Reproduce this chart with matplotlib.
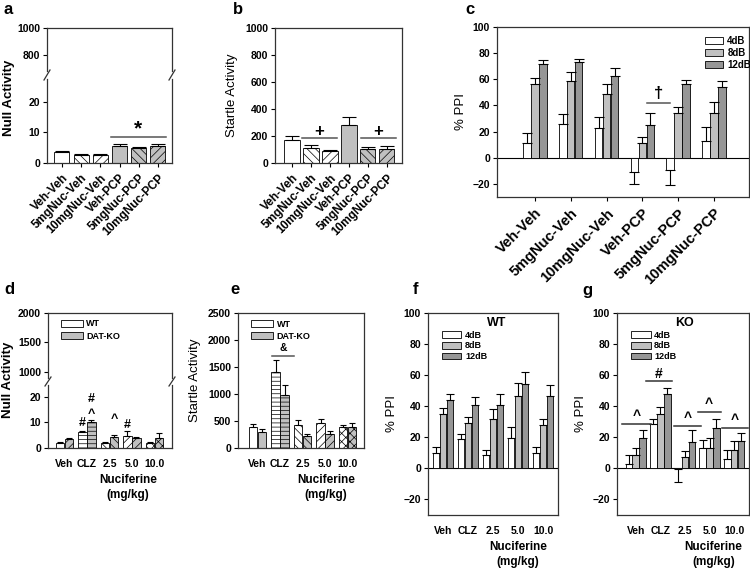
import matplotlib
matplotlib.use('Agg')
import matplotlib.pyplot as plt
from matplotlib.patches import Patch
from matplotlib.lines import Line2D
import numpy as np

plt.rcParams['font.family'] = ['Liberation Sans', 'DejaVu Sans']
plt.rcParams['font.weight'] = 'bold'
plt.rcParams['hatch.linewidth'] = 0.5

W, H = 750, 572

# ---- panels a-c: PCP model ----
groups_abc = ['Veh-Veh', '5mgNuc-Veh', '10mgNuc-Veh', 'Veh-PCP', '5mgNuc-PCP', '10mgNuc-PCP']
null_act = [3.5, 2.6, 2.6, 5.5, 4.8, 5.5]
null_err = [0.3, 0.5, 0.5, 0.6, 0.4, 0.7]
startle_act = [168, 112, 88, 285, 105, 105]
startle_err = [32, 22, 12, 57, 13, 20]
c_4db = [11.5, 25.9, 23.0, -10.8, -9.0, 12.8]
c_4db_err = [7.7, 7.4, 8.5, 8.9, 12.0, 11.0]
c_8db = [56.4, 59.0, 48.7, 11.0, 34.1, 34.1]
c_8db_err = [4.6, 6.4, 8.0, 5.0, 4.4, 8.2]
c_12db = [71.8, 73.0, 62.8, 25.1, 56.4, 53.8]
c_12db_err = [2.6, 2.6, 5.9, 9.0, 3.3, 5.2]

# ---- panels d-g: DAT-KO ----
doses = ['Veh', 'CLZ', '2.5', '5.0', '10.0']
null_wt = [1.9, 6.1, 1.9, 4.8, 1.9]
null_wt_err = [0.3, 0.6, 0.3, 1.7, 0.3]
null_ko = [3.5, 10.0, 4.3, 3.9, 3.9]
null_ko_err = [0.3, 1.0, 0.9, 0.6, 1.9]
startle_wt = [389, 1407, 432, 463, 389]
startle_wt_err = [61, 216, 80, 80, 31]
startle_ko = [296, 988, 216, 265, 389]
startle_ko_err = [62, 185, 49, 44, 74]
wt_4db = [10.2, 19.0, 8.3, 19.4, 10.2]
wt_4db_err = [3.4, 3.0, 3.7, 7.0, 3.8]
wt_8db = [35.3, 29.4, 31.5, 46.6, 27.7]
wt_8db_err = [3.7, 3.6, 6.5, 8.4, 4.3]
wt_12db = [43.8, 40.6, 41.0, 54.5, 46.4]
wt_12db_err = [4.2, 5.4, 7.0, 7.5, 7.0]
ko_4db = [3.0, 28.3, -0.5, 13.0, 6.0]
ko_4db_err = [5.7, 3.7, 8.5, 5.3, 6.0]
ko_8db = [8.3, 35.3, 7.2, 13.0, 12.0]
ko_8db_err = [4.7, 4.3, 4.3, 6.4, 5.7]
ko_12db = [19.4, 48.0, 17.2, 26.2, 17.9]
ko_12db_err = [5.6, 4.0, 7.8, 5.8, 5.1]

db_labels = ['4dB', '8dB', '12dB']
db_colors = ['white', '#c0c0c0', '#969696']
grey = '#c0c0c0'

fig = plt.figure(figsize=(7.5, 5.72), dpi=100)


def px_axes(l, t, r, b):
    return fig.add_axes([l / W, 1 - b / H, (r - l) / W, (b - t) / H])


def style(ax, xticks=True):
    for s in ax.spines.values():
        s.set_linewidth(0.9)
        s.set_color('#333333')
    ax.tick_params(axis='y', direction='out', length=3, width=0.8, labelsize=7.5, pad=2)
    ax.tick_params(axis='x', direction='out', length=3 if xticks else 0, width=0.8)


def err_bars(ax, x, vals, errs, cap):
    lo = [e if v < 0 else 0 for v, e in zip(vals, errs)]
    hi = [0 if v < 0 else e for v, e in zip(vals, errs)]
    ax.errorbar(x, vals, yerr=[lo, hi], fmt='none', ecolor='k',
                elinewidth=0.8, capsize=cap, capthick=0.8, zorder=3)


def sig(ax, x0, x1, y, txt, ty, size=9, color='#555555'):
    ax.plot([x0, x1], [y, y], color=color, lw=1.1, zorder=4)
    ax.text((x0 + x1) / 2, ty, txt, ha='center', va='center', fontsize=size, zorder=4)


def broken(l, r, t1, b1, t2, b2, top_lim, bot_lim, top_ticks, bot_ticks):
    top = px_axes(l, t1, r, b1)
    bot = px_axes(l, t2, r, b2)
    style(top)
    style(bot)
    top.spines['bottom'].set_visible(False)
    bot.spines['top'].set_visible(False)
    top.set_ylim(*top_lim)
    bot.set_ylim(*bot_lim)
    top.set_yticks(top_ticks)
    bot.set_yticks(bot_ticks)
    top.set_xticks([])
    for x in (l, r):
        fig.add_artist(Line2D([(x - 3) / W, (x + 3) / W], [1 - (t2 + 1) / H, 1 - (b1 - 1) / H],
                              color='#333333', lw=0.9))
    return top, bot


# ---------------- panel a ----------------
xa = np.arange(len(groups_abc))
fills = ['white', 'white', 'white', grey, grey, grey]
hatches = [None, '\\\\\\\\', '////', None, '\\\\\\\\', '////']

a_top, a_bot = broken(47, 172, 28, 71, 79, 163, (681, 1000), (0, 27.5), [800, 1000], [0, 10, 20])
for ax in (a_top, a_bot):
    ax.set_xlim(-0.78, 5.73)
a_bot.bar(xa, null_act, width=0.78, color=fills, hatch=hatches, edgecolor='k', linewidth=0.6, zorder=2)
err_bars(a_bot, xa, null_act, null_err, 5)
a_bot.set_xticks(xa)
a_bot.set_xticklabels(groups_abc, rotation=45, ha='right', rotation_mode='anchor', fontsize=8.5)
sig(a_bot, 2.55, 5.4, 8.5, '*', 11.2, size=15)
fig.text(9 / W, 1 - 98 / H, 'Null Activity', rotation=90, ha='center', va='center', fontsize=9.5)

# ---------------- panel b ----------------
ax_b = px_axes(275, 28, 402, 163)
style(ax_b)
ax_b.bar(xa, startle_act, width=0.8, color=fills, hatch=hatches, edgecolor='k', linewidth=0.6, zorder=2)
err_bars(ax_b, xa, startle_act, startle_err, 5)
ax_b.set_xlim(-0.9, 5.8)
ax_b.set_ylim(0, 1000)
ax_b.set_yticks(range(0, 1001, 200))
ax_b.set_xticks(xa)
ax_b.set_xticklabels(groups_abc, rotation=45, ha='right', rotation_mode='anchor', fontsize=8.5)
ax_b.set_ylabel('Startle Activity', fontsize=9.5, labelpad=5)
sig(ax_b, 0.53, 2.37, 185, '+', 235, size=12)
sig(ax_b, 3.63, 5.47, 185, '+', 235, size=12)

# ---------------- panel c ----------------
ax_c = px_axes(497, 27, 749, 197)
style(ax_c)
c_vals = [c_4db, c_8db, c_12db]
c_errs = [c_4db_err, c_8db_err, c_12db_err]
for i in range(3):
    xs = xa + (i - 1) * 0.223
    ax_c.bar(xs, c_vals[i], width=0.21, color=db_colors[i], edgecolor='k', linewidth=0.6,
             label=db_labels[i], zorder=2)
    err_bars(ax_c, xs, c_vals[i], c_errs[i], 3.5)
ax_c.axhline(0, color='k', lw=0.8, zorder=1)
ax_c.set_xlim(-1.06, 5.98)
ax_c.set_ylim(-30, 100)
ax_c.set_yticks(range(-20, 101, 20))
ax_c.set_xticks(xa)
ax_c.set_xticklabels(groups_abc, rotation=45, ha='right', rotation_mode='anchor', fontsize=10.5)
ax_c.set_ylabel('% PPI', fontsize=9.5, labelpad=4)
sig(ax_c, 3.13, 3.77, 41.8, '\u2020', 49.5, size=12)
ax_c.legend(loc='upper left', bbox_to_anchor=(0.806, 0.975), frameon=False, fontsize=7,
            handlelength=1.9, handleheight=0.75, labelspacing=0.18, borderpad=0, handletextpad=0.4)

# ---------------- panel d ----------------
xd = np.arange(len(doses))
d_hatch = [None, '----', '\\\\\\\\', '////', 'xxxx']
d_hatch_ko = ['////', '----', '\\\\\\\\', '////', 'xxxx']
d_top, d_bot = broken(48, 172, 313, 378, 385, 448, (898, 2000), (0, 24.7), [1000, 1500, 2000], [0, 10, 20])
for ax in (d_top, d_bot):
    ax.set_xlim(-0.73, 4.78)
d_bot.bar(xd - 0.2, null_wt, width=0.38, color='white', hatch=d_hatch, edgecolor='k', linewidth=0.6, zorder=2)
d_bot.bar(xd + 0.2, null_ko, width=0.38, color=grey, hatch=d_hatch_ko, edgecolor='k', linewidth=0.6, zorder=2)
err_bars(d_bot, xd - 0.2, null_wt, null_wt_err, 2.5)
err_bars(d_bot, xd + 0.2, null_ko, null_ko_err, 2.5)
d_bot.set_xticks(xd)
d_bot.set_xticklabels(doses, fontsize=7.5)
d_bot.tick_params(axis='x', length=0, pad=8)
for x, y, t in [(0.8, 9.7, '#'), (1.2, 19.3, '#'), (1.2, 13.2, '^'), (2.2, 11.2, '^'), (2.8, 9.0, '#')]:
    d_bot.text(x, y, t, ha='center', va='center', fontsize=9)
d_bot.annotate('Nuciferine\n(mg/kg)', xy=(0.645, 0), xycoords='axes fraction', xytext=(0, -19),
               textcoords='offset points', ha='center', va='top', fontsize=8.5, linespacing=1.3)
d_top.legend(handles=[Patch(facecolor='white', edgecolor='k', lw=0.6, label='WT'),
                      Patch(facecolor=grey, edgecolor='k', lw=0.6, label='DAT-KO')],
             loc='upper left', bbox_to_anchor=(0.07, 0.97), frameon=False, fontsize=6.5,
             handlelength=2.4, handleheight=0.8, labelspacing=0.35, borderpad=0, handletextpad=0.4)
fig.text(8 / W, 1 - 380 / H, 'Null Activity', rotation=90, ha='center', va='center', fontsize=9.5)

# ---------------- panel e ----------------
ax_e = px_axes(238, 313, 364, 448)
style(ax_e, xticks=False)
e_hatch = [None, '----', '\\\\\\\\', '////', 'xxxx']
ax_e.bar(xd - 0.2, startle_wt, width=0.38, color='white', hatch=e_hatch, edgecolor='k', linewidth=0.6, zorder=2)
ax_e.bar(xd + 0.2, startle_ko, width=0.38, color=grey, hatch=e_hatch, edgecolor='k', linewidth=0.6, zorder=2)
err_bars(ax_e, xd - 0.2, startle_wt, startle_wt_err, 2.5)
err_bars(ax_e, xd + 0.2, startle_ko, startle_ko_err, 2.5)
ax_e.set_xlim(-0.87, 4.73)
ax_e.set_ylim(0, 2500)
ax_e.set_yticks(range(0, 2501, 500))
ax_e.set_xticks(xd)
ax_e.set_xticklabels(doses, fontsize=7.5)
ax_e.tick_params(axis='x', length=0, pad=8)
ax_e.set_ylabel('Startle Activity', fontsize=9.5, labelpad=5)
sig(ax_e, 0.65, 1.6, 1704, '&', 1850, size=7.5)
ax_e.annotate('Nuciferine\n(mg/kg)', xy=(0.70, 0), xycoords='axes fraction', xytext=(0, -19),
              textcoords='offset points', ha='center', va='top', fontsize=8.5, linespacing=1.3)
ax_e.legend(handles=[Patch(facecolor='white', edgecolor='k', lw=0.6, label='WT'),
                     Patch(facecolor=grey, edgecolor='k', lw=0.6, label='DAT-KO')],
            loc='upper left', bbox_to_anchor=(0.07, 0.985), frameon=False, fontsize=6.5,
            handlelength=2.4, handleheight=0.8, labelspacing=0.35, borderpad=0, handletextpad=0.4)


# ---------------- panels f, g ----------------
def ppi_panel(l, r, vals, errs, step, xlim, title, title_x, label_x):
    ax = px_axes(l, 313, r, 515)
    style(ax, xticks=False)
    for i in range(3):
        xs = xd + (i - 1) * step
        ax.bar(xs, vals[i], width=step * 0.95, color=db_colors[i], edgecolor='k', linewidth=0.6,
               label=db_labels[i], zorder=2)
        err_bars(ax, xs, vals[i], errs[i], 2.8)
    ax.axhline(0, color='k', lw=0.8, zorder=1)
    ax.set_xlim(*xlim)
    ax.set_ylim(-30, 100)
    ax.set_yticks(range(-20, 101, 20))
    ax.set_xticks(xd)
    ax.set_xticklabels(doses, fontsize=7.5)
    ax.tick_params(axis='x', length=0, pad=8)
    ax.set_ylabel('% PPI', fontsize=9.5, labelpad=4)
    ax.text(title_x, 0.95, title, transform=ax.transAxes, ha='center', va='center', fontsize=9)
    ax.legend(loc='upper left', bbox_to_anchor=(0.07, 0.935), frameon=False, fontsize=6.5,
              handlelength=2.2, handleheight=0.75, labelspacing=0.2, borderpad=0, handletextpad=0.4)
    ax.annotate('Nuciferine\n(mg/kg)', xy=(label_x, 0), xycoords='axes fraction', xytext=(0, -19),
                textcoords='offset points', ha='center', va='top', fontsize=8.5, linespacing=1.3)
    return ax


ax_f = ppi_panel(428, 558, [wt_4db, wt_8db, wt_12db], [wt_4db_err, wt_8db_err, wt_12db_err],
                 0.27, (-0.6, 4.6), 'WT', 0.53, 0.69)
ax_g = ppi_panel(617, 749, [ko_4db, ko_8db, ko_12db], [ko_4db_err, ko_8db_err, ko_12db_err],
                 0.28, (-0.76, 4.6), 'KO', 0.515, 0.73)
sig(ax_g, -0.55, 0.63, 28.3, '^', 33.5, size=10, color='#333333')
sig(ax_g, 0.42, 1.47, 56.0, '#', 60.5, size=10, color='#333333')
sig(ax_g, 1.55, 2.65, 27.0, '^', 32.2, size=10, color='#333333')
sig(ax_g, 2.52, 3.45, 36.0, '^', 41.2, size=10, color='#333333')
sig(ax_g, 3.5, 4.54, 25.7, '^', 30.9, size=10, color='#333333')

# panel letters
for x, y, t in [(4, 9, 'a'), (233, 9, 'b'), (465, 9, 'c'),
                (4, 290, 'd'), (230, 290, 'e'), (413, 290, 'f'), (582, 290, 'g')]:
    fig.text(x / W, 1 - y / H, t, fontsize=12, ha='left', va='center')

fig.savefig('out.png', dpi=100)
